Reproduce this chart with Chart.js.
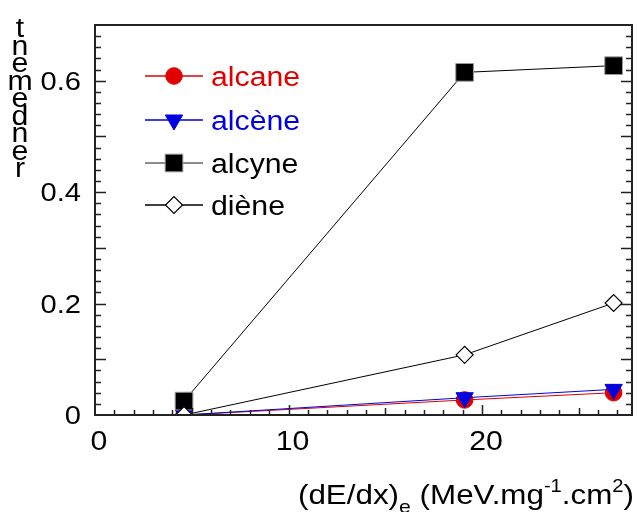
<!DOCTYPE html>
<html>
<head>
<meta charset="utf-8">
<script src="https://cdn.jsdelivr.net/npm/chart.js@4.4.1/dist/chart.umd.min.js"></script>
<style>
  body { margin: 0; background: #fff; }
  canvas { display: block; }
</style>
</head>
<body>
<canvas id="grafico" width="637" height="512"></canvas>
<script>
// dados
const energias = [4.6, 19.1, 26.8];
const alcane = [0.0, 0.027, 0.04];
const alcene = [0.0, 0.031, 0.046];
const alcyne = [0.025, 0.615, 0.627];
const diene = [0.0, 0.108, 0.201];

const rotulos = ["alcane", "alcène", "alcyne", "diène"];
const ticksX = [0, 10, 20];
const ticksY = [0, 0.2, 0.4, 0.6];

const fonte = "'Liberation Sans', Arial, sans-serif";
const esticar = 1.12; // o texto da figura e um pouco largo

function pontos(valores) {
  return energias.map((x, i) => ({ x: x, y: valores[i] }));
}

function texto(ctx, s, x, y, tam, alinhar) {
  ctx.font = tam + "px " + fonte;
  const w = ctx.measureText(s).width * esticar;
  let x0 = x;
  if (alinhar === "center") x0 = x - w / 2;
  if (alinhar === "right") x0 = x - w;
  ctx.save();
  ctx.translate(x0, y);
  ctx.scale(esticar, 1);
  ctx.textAlign = "left";
  ctx.fillText(s, 0, 0);
  ctx.restore();
  return w;
}

// ticks para dentro + moldura
const moldura = {
  id: "moldura",
  afterDatasetsDraw(chart) {
    const ctx = chart.ctx;
    const a = chart.chartArea;
    const sx = chart.scales.x;
    const sy = chart.scales.y;
    ctx.save();
    ctx.strokeStyle = "#222";
    ctx.lineWidth = 1.5;
    ctx.beginPath();
    for (let v = 1; v < 28; v++) {
      const px = Math.round(sx.getPixelForValue(v)) + 0.5;
      let len = 5;
      if (v % 10 === 0) len = 10;
      else if (v % 5 === 0) len = 7;
      ctx.moveTo(px, a.bottom);
      ctx.lineTo(px, a.bottom - len);
    }
    for (let k = 1; k < 35; k++) {
      const py = Math.round(sy.getPixelForValue(k * 0.02)) + 0.5;
      const len = k % 5 === 0 ? 11 : 6;
      ctx.moveTo(a.left, py);
      ctx.lineTo(a.left + len, py);
      ctx.moveTo(a.right, py);
      ctx.lineTo(a.right - len, py);
    }
    ctx.stroke();
    ctx.lineWidth = 2;
    ctx.strokeRect(a.left, a.top, a.right - a.left, a.bottom - a.top);
    ctx.restore();
  },
  afterDraw(chart) {
    const ctx = chart.ctx;
    const sx = chart.scales.x;
    const sy = chart.scales.y;
    ctx.save();
    ctx.fillStyle = "#000";
    ctx.textBaseline = "alphabetic";

    // rotulos dos eixos
    ticksX.forEach((v) => {
      texto(ctx, String(v), sx.getPixelForValue(v) + 4, 450, 27, "center");
    });
    ticksY.forEach((v) => {
      const s = v === 0 ? "0" : v.toFixed(1);
      texto(ctx, s, 81, sy.getPixelForValue(v) + 9, 26, "right");
    });

    // titulo do eixo y, letra por letra
    "rendement".split("").forEach((c, i) => {
      texto(ctx, c, 20, 177 - i * 17.5, 27, "center");
    });

    // titulo do eixo x com indices
    const partes = [
      ["(dE/dx)", 0, 28],
      ["e", 9, 19],
      [" (MeV.mg", 0, 28],
      ["-1", -12, 18],
      [".cm", 0, 28],
      ["2", -12, 18],
      [")", 0, 28],
    ];
    let largura = 0;
    partes.forEach((p) => {
      ctx.font = p[2] + "px " + fonte;
      largura += ctx.measureText(p[0]).width * esticar;
    });
    let x = 634 - largura;
    partes.forEach((p) => {
      x += texto(ctx, p[0], x, 504 + p[1], p[2], "left");
    });

    // legenda
    const ys = [76, 120, 163, 205];
    chart.data.datasets.forEach((ds, i) => {
      const y = ys[i];
      ctx.strokeStyle = ds.legendLine || ds.borderColor;
      ctx.lineWidth = 1.5;
      ctx.beginPath();
      ctx.moveTo(145, y);
      ctx.lineTo(203, y);
      ctx.stroke();
      ctx.fillStyle = ds.pointBackgroundColor;
      ctx.strokeStyle = ds.pointBorderColor;
      ctx.lineWidth = ds.pointBorderWidth;
      Chart.helpers.drawPoint(
        ctx,
        {
          pointStyle: ds.pointStyle,
          rotation: ds.pointRotation || 0,
          radius: ds.pointRadius,
          borderWidth: ds.pointBorderWidth,
        },
        174,
        y
      );
      ctx.fillStyle = ds.textColor;
      texto(ctx, ds.label, 211, y + 10, 27, "left");
    });
    ctx.restore();
  },
};

const grafico = new Chart(document.getElementById("grafico"), {
  type: "line",
  data: {
    datasets: [
      {
        label: rotulos[0],
        data: pontos(alcane),
        order: 3,
        borderColor: "#e00000",
        borderWidth: 1,
        pointStyle: "circle",
        pointRadius: 8.3,
        pointBorderWidth: 1,
        pointBackgroundColor: "#e00000",
        pointBorderColor: "#e00000",
        textColor: "#e00000",
      },
      {
        label: rotulos[1],
        data: pontos(alcene),
        order: 2,
        borderColor: "#0000e0",
        borderWidth: 1,
        pointStyle: "triangle",
        pointRotation: 180,
        pointRadius: 10,
        pointBorderWidth: 1,
        pointBackgroundColor: "#0000e0",
        pointBorderColor: "#0000e0",
        textColor: "#0000e0",
      },
      {
        label: rotulos[2],
        data: pontos(alcyne),
        order: 1,
        borderColor: "#000",
        legendLine: "#666",
        borderWidth: 1,
        pointStyle: "rect",
        pointRadius: 12.5,
        pointBorderWidth: 1,
        pointBackgroundColor: "#000",
        pointBorderColor: "#999",
        textColor: "#000",
      },
      {
        label: rotulos[3],
        data: pontos(diene),
        order: 0,
        borderColor: "#000",
        borderWidth: 1,
        pointStyle: "rectRot",
        pointRadius: 8.5,
        pointBorderWidth: 1.2,
        pointBackgroundColor: "#fff",
        pointBorderColor: "#000",
        textColor: "#000",
      },
    ],
  },
  options: {
    responsive: false,
    animation: false,
    layout: {
      autoPadding: false,
      padding: { top: 25, right: 5, left: 0, bottom: 0 },
    },
    plugins: {
      legend: { display: false },
      tooltip: { enabled: false },
    },
    scales: {
      x: {
        type: "linear",
        min: 0,
        max: 27.75,
        afterFit: (scale) => {
          scale.height = 97;
          scale.paddingLeft = 0;
          scale.paddingRight = 0;
        },
        afterBuildTicks: (scale) => {
          scale.ticks = ticksX.map((v) => ({ value: v }));
        },
        grid: { display: false },
        border: { display: false },
        ticks: { display: false },
      },
      y: {
        min: 0,
        max: 0.7,
        afterFit: (scale) => {
          scale.width = 95;
          scale.paddingTop = 0;
          scale.paddingBottom = 0;
        },
        afterBuildTicks: (scale) => {
          scale.ticks = ticksY.map((v) => ({ value: v }));
        },
        grid: { display: false },
        border: { display: false },
        ticks: { display: false },
      },
    },
  },
  plugins: [moldura],
});
</script>
</body>
</html>
